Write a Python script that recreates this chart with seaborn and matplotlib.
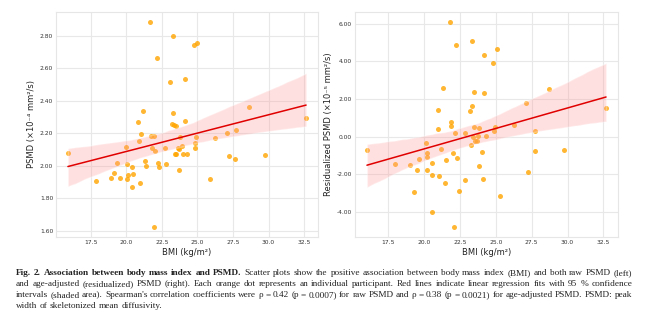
import matplotlib
matplotlib.use("Agg")
import matplotlib.pyplot as plt
import seaborn as sns
import pandas as pd

# BMI (kg/m²) and raw PSMD (×10⁻⁴ mm²/s) per participant
bmi_raw = [15.9, 17.87, 18.93, 19.16, 19.37, 19.54, 19.96, 20.05, 20.1, 20.05,
           20.4, 20.47, 20.4, 20.85, 20.92, 21.03, 20.96, 21.2, 21.31, 21.41,
           21.69, 21.74, 21.92, 21.83, 21.99, 21.95, 22.16, 22.23, 22.32, 22.74,
           22.77, 23.09, 23.28, 23.3, 23.19, 23.33, 23.47, 23.4, 23.51, 23.65,
           23.68, 23.8, 23.73, 23.89, 24.0, 24.24, 24.1, 24.12, 24.78, 24.99,
           24.82, 24.82, 24.9, 25.88, 26.21, 27.1, 27.19, 27.68, 27.66, 28.62,
           29.74, 32.64]
psmd_raw = [2.076, 1.904, 1.924, 1.957, 2.016, 1.922, 2.117, 2.008, 1.945, 1.918,
            1.992, 1.947, 1.867, 2.267, 2.154, 2.195, 1.897, 2.338, 2.027, 1.998,
            2.882, 2.181, 2.181, 2.111, 2.090, 1.625, 2.665, 2.018, 1.990, 2.109,
            2.010, 2.517, 2.800, 2.322, 2.258, 2.252, 2.244, 2.072, 2.070, 2.107,
            2.103, 2.174, 1.971, 2.119, 2.072, 2.070, 2.535, 2.277, 2.743, 2.757,
            2.137, 2.111, 2.174, 1.920, 2.172, 2.201, 2.059, 2.219, 2.039, 2.359,
            2.068, 2.291]

# BMI and age-adjusted (residualized) PSMD (×10⁻⁵ mm²/s)
bmi_adj = [16.0, 17.97, 19.02, 19.27, 19.48, 19.62, 20.09, 20.18, 20.18, 20.18,
           20.51, 20.56, 20.51, 20.93, 20.93, 21.14, 21.05, 21.28, 21.42, 21.51,
           21.77, 21.84, 21.86, 22.03, 22.12, 22.05, 22.24, 22.31, 22.42, 22.82,
           22.86, 23.19, 23.35, 23.35, 23.26, 23.4, 23.5, 23.54, 23.68, 23.5,
           23.84, 23.75, 23.8, 24.01, 24.08, 24.19, 24.19, 24.31, 24.82, 25.08,
           24.92, 24.89, 25.31, 26.29, 27.13, 27.25, 27.74, 27.74, 28.7, 29.77,
           32.69]
psmd_adj = [-0.69, -1.46, -1.49, -2.97, -1.78, -1.21, -0.36, -0.85, -1.07, -1.78,
            -2.04, -1.42, -4.00, 0.41, 1.42, -0.66, -2.10, 2.56, -2.45, -1.23,
            6.08, 0.75, 0.55, -0.89, 0.21, -4.80, 4.87, -1.14, -2.92, 0.20,
            -2.31, 1.35, 5.07, 1.65, -0.44, -0.02, 0.50, -0.25, -0.25, 2.36,
            0.43, 0.02, -1.55, -0.82, -2.24, 4.34, 2.31, 0.02, 3.91, 4.64,
            0.52, 0.27, -3.15, 0.64, 1.76, -1.87, 0.28, -0.78, 2.52, -0.71,
            1.53]

x_label = "BMI (kg/m²)"
y_label_raw = "PSMD (×10⁻⁴ mm²/s)"
y_label_adj = "Residualized PSMD (×10⁻⁵ mm²/s)"

sns.set_theme(style="whitegrid")
plt.rcParams["font.family"] = ["DejaVu Sans"]
plt.rcParams["axes.edgecolor"] = "#e6e6e6"
plt.rcParams["grid.color"] = "#e8e8e8"

W, H = 658, 329
fig = plt.figure(figsize=(W / 100, H / 100), dpi=100)


def px_axes(left, top, right, bottom):
    return fig.add_axes([left / W, 1 - bottom / H, (right - left) / W, (bottom - top) / H])


ax1 = px_axes(56, 12, 318, 237)
ax2 = px_axes(355, 12, 618, 237)

panels = [
    (ax1, bmi_raw, psmd_raw, y_label_raw),
    (ax2, bmi_adj, psmd_adj, y_label_adj),
]
for ax, xs, ys, ylab in panels:
    df = pd.DataFrame({"bmi": xs, "psmd": ys})
    sns.regplot(data=df, x="bmi", y="psmd", ax=ax, ci=95, seed=1,
                scatter_kws=dict(color="#FFA500", alpha=0.8, s=13, linewidths=0),
                line_kws=dict(color="#e00000", lw=1.1))
    for coll in ax.collections[1:]:
        coll.set_facecolor("#ff9a9a")
        coll.set_alpha(0.3)
    ax.set_xlabel(x_label, fontsize=6, color="#222222", labelpad=2)
    ax.set_ylabel(ylab, fontsize=6, color="#222222", labelpad=3)
    ax.tick_params(labelsize=4.3, colors="#333333", pad=2, length=0)
    ax.yaxis.set_major_formatter(matplotlib.ticker.FormatStrFormatter("%.2f"))
    ax.xaxis.set_major_formatter(matplotlib.ticker.FormatStrFormatter("%.1f"))
    ax.set_xticks([17.5, 20.0, 22.5, 25.0, 27.5, 30.0, 32.5])
    for s in ax.spines.values():
        s.set_linewidth(0.8)
    ax.grid(lw=0.8)

ax1.set_yticks([1.6, 1.8, 2.0, 2.2, 2.4, 2.6, 2.8])
ax2.set_yticks([-4, -2, 0, 2, 4, 6])

# Caption, justified line by line
caption_lines = [
    [("Fig. 2.  Association between body mass index and PSMD.", True),
     (" Scatter plots show the positive association between body mass index (BMI) and both raw PSMD (left)", False)],
    [("and age-adjusted (residualized) PSMD (right). Each orange dot represents an individual participant. Red lines indicate linear regression fits with 95 % confidence", False)],
    [("intervals (shaded area). Spearman's correlation coefficients were ρ = 0.42 (p = 0.0007) for raw PSMD and ρ = 0.38 (p = 0.0021) for age-adjusted PSMD. PSMD: peak", False)],
    [("width of skeletonized mean diffusivity.", False)],
]
cap_left, cap_right = 16, 632
line_y = [273, 284, 295, 306]
fs = 6.7
serif = ["Liberation Serif", "DejaVu Serif"]
renderer = fig.canvas.get_renderer()

for i, (segs, y) in enumerate(zip(caption_lines, line_y)):
    words = []
    for text, bold in segs:
        for w in text.split():
            words.append((w, bold))
    objs = []
    total = 0.0
    for w, bold in words:
        t = fig.text(0, 1 - y / H, w, fontsize=fs, family=serif,
                     fontweight="bold" if bold else "normal", color="#222222",
                     va="center", ha="left")
        wpx = t.get_window_extent(renderer).width
        objs.append((t, wpx))
        total += wpx
    last = i == len(caption_lines) - 1
    if last:
        gap = fs * 0.25 * 100 / 72
    else:
        gap = max((cap_right - cap_left - total) / (len(objs) - 1), 1.2)
    x = cap_left
    for t, wpx in objs:
        t.set_x(x / W)
        x += wpx + gap

fig.savefig("out.png", dpi=100)
